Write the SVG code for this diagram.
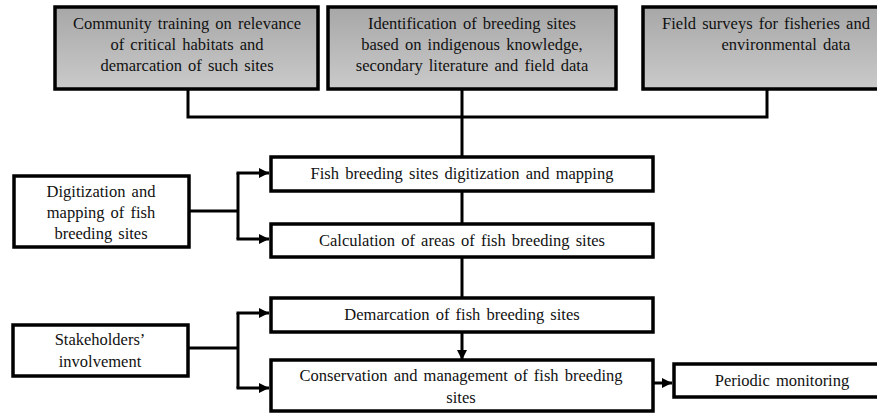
<svg xmlns="http://www.w3.org/2000/svg" width="877" height="413" viewBox="0 0 877 413">
<defs>
<linearGradient id="g" x1="0" y1="0" x2="0" y2="1">
<stop offset="0" stop-color="#a7a7a7"/>
<stop offset="1" stop-color="#cacaca"/>
</linearGradient>
<marker id="ah" viewBox="0 0 10 10" refX="10" refY="5" markerWidth="10" markerHeight="10" markerUnits="userSpaceOnUse" orient="auto">
<path d="M0,0 L10,5 L0,10 z" fill="#000"/>
</marker>
<style>
.top{fill:url(#g);stroke:#000;stroke-width:3.5}
.box{fill:#fff;stroke:#000;stroke-width:3.5}
.t{font-family:'Liberation Serif','Times New Roman',serif;font-size:16.5px;fill:#111;text-anchor:middle;word-spacing:2px}
.c{fill:none;stroke:#000;stroke-width:3}
</style>
</defs>
<g id="connectors">
<polyline class="c" points="188,89 188,117 767,117 767,89"/>
<line class="c" x1="462" y1="89" x2="462" y2="157"/>
<line class="c" x1="462" y1="191" x2="462" y2="224"/>
<line class="c" x1="462" y1="257" x2="462" y2="298"/>
<line class="c" x1="462" y1="332" x2="462" y2="360" marker-end="url(#ah)"/>
<line class="c" x1="189" y1="211" x2="238" y2="211"/>
<polyline class="c" points="238,173 238,239"/>
<line class="c" x1="236.5" y1="173" x2="269" y2="173" marker-end="url(#ah)"/>
<line class="c" x1="236.5" y1="239" x2="269" y2="239" marker-end="url(#ah)"/>
<line class="c" x1="188" y1="348" x2="238" y2="348"/>
<polyline class="c" points="238,313 238,388"/>
<line class="c" x1="236.5" y1="313" x2="269" y2="313" marker-end="url(#ah)"/>
<line class="c" x1="236.5" y1="388" x2="269" y2="388" marker-end="url(#ah)"/>
<line class="c" x1="653" y1="383" x2="672" y2="383" marker-end="url(#ah)"/>
</g>
<g id="n1">
<rect class="top" x="55" y="7" width="263" height="82"/>
<text class="t" x="187" y="29">Community training on relevance</text>
<text class="t" x="187" y="50">of critical habitats and</text>
<text class="t" x="187" y="71">demarcation of such sites</text>
</g>
<g id="n2">
<rect class="top" x="328" y="7" width="288" height="82"/>
<text class="t" x="472" y="29">Identification of breeding sites</text>
<text class="t" x="472" y="50">based on indigenous knowledge,</text>
<text class="t" x="472" y="71">secondary literature and field data</text>
</g>
<g id="n3">
<rect class="top" x="643" y="7" width="250" height="82"/>
<text class="t" x="766" y="29">Field surveys for fisheries and</text>
<text class="t" x="786" y="50">environmental data</text>
</g>
<g id="n4">
<rect class="box" x="271" y="157" width="382" height="34"/>
<text class="t" x="462" y="179">Fish breeding sites digitization and mapping</text>
</g>
<g id="n5">
<rect class="box" x="271" y="224" width="382" height="33"/>
<text class="t" x="462" y="246">Calculation of areas of fish breeding sites</text>
</g>
<g id="n6">
<rect class="box" x="14" y="176" width="175" height="71"/>
<text class="t" x="101" y="197">Digitization and</text>
<text class="t" x="101" y="218">mapping of fish</text>
<text class="t" x="101" y="239">breeding sites</text>
</g>
<g id="n7">
<rect class="box" x="271" y="298" width="382" height="34"/>
<text class="t" x="462" y="320">Demarcation of fish breeding sites</text>
</g>
<g id="n8">
<rect class="box" x="271" y="360" width="382" height="51"/>
<text class="t" x="461" y="381">Conservation and management of fish breeding</text>
<text class="t" x="461" y="403">sites</text>
</g>
<g id="n9">
<rect class="box" x="13" y="325" width="175" height="51"/>
<text class="t" x="100" y="345">Stakeholders’</text>
<text class="t" x="100" y="367">involvement</text>
</g>
<g id="n10">
<rect class="box" x="674" y="364" width="216" height="33"/>
<text class="t" x="782" y="386">Periodic monitoring</text>
</g>
</svg>
